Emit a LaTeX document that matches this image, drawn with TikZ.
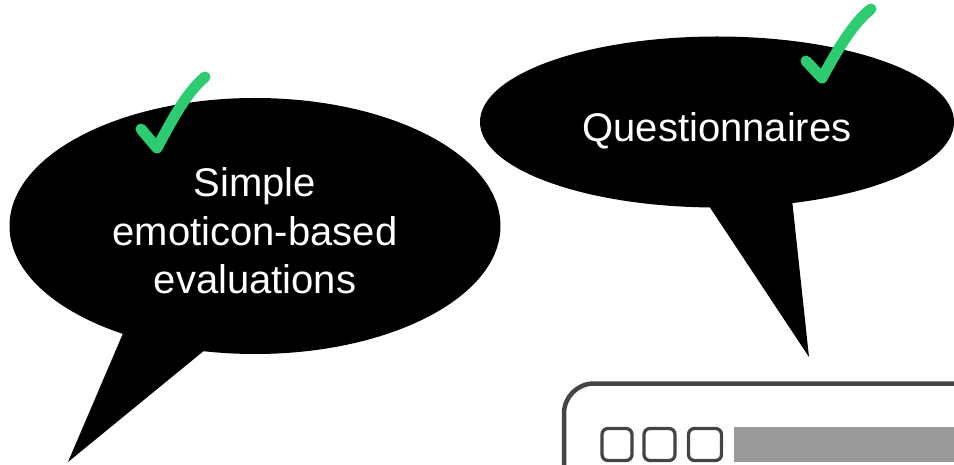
\documentclass[tikz,border=0pt]{standalone}
\usepackage{fontspec}
\setmainfont{Liberation Sans}
\usetikzlibrary{shapes.geometric,calc}
\definecolor{checkgreen}{RGB}{46,204,113}
\definecolor{framegray}{RGB}{68,68,68}
\definecolor{bargray}{RGB}{153,153,153}
\newcommand{\bubbletext}[1]{\raisebox{-16pt}[0pt][0pt]{\begin{tabular}{@{}c@{}}#1\end{tabular}}}
\begin{document}
\begin{tikzpicture}[x=1pt,y=-1pt,
  bubble/.style={ellipse,fill=black,inner sep=0pt,text=white,
    font=\fontsize{40}{48.5}\selectfont},
  checkmark/.style={draw=checkgreen,line width=11,line cap=round,line join=round},
  framebox/.style={draw=framegray,line width=4.5,rounded corners=30},
  btn/.style={draw=framegray,line width=3.3,rounded corners=6}]
\useasboundingbox (0,0) rectangle (954,465);
% left bubble
\node[bubble,minimum width=491,minimum height=256] (b1) at (255,226)
  {\bubbletext{Simple\\emoticon-based\\evaluations}};
\coordinate (t1a) at (130,317);
\coordinate (t1tip) at (68,462);
\coordinate (t1b) at (222,336);
\fill (t1a) -- (t1tip) -- (t1b) -- cycle;
% right bubble
\node[bubble,minimum width=474,minimum height=171] (b2) at (717,122)
  {\bubbletext{Questionnaires}};
\coordinate (t2a) at (703,197);
\coordinate (t2tip) at (809,357);
\coordinate (t2b) at (791,190);
\fill (t2a) -- (t2tip) -- (t2b) -- cycle;
% checkmarks
\coordinate (c1) at (157,148);
\draw[checkmark] ($(c1)+(-16,-19)$) -- (c1) .. controls ($(c1)+(16,-30)$) and ($(c1)+(30,-56)$) .. ($(c1)+(48,-71)$);
\coordinate (c2) at (822,78);
\draw[checkmark] ($(c2)+(-16,-17)$) -- (c2) .. controls ($(c2)+(16,-29)$) and ($(c2)+(31,-55)$) .. ($(c2)+(49,-69)$);
% browser window
\coordinate (w0) at (564,480);
\coordinate (w1) at (564,383.5);
\coordinate (w2) at (970,383.5);
\draw[framebox] (w0) -- (w1) -- (w2);
\node[btn,minimum width=30,minimum height=32,inner sep=0pt] (k1) at (617,444.5) {};
\node[btn,minimum width=31,minimum height=32,inner sep=0pt] (k2) at (659.5,444.5) {};
\node[btn,minimum width=33,minimum height=32,inner sep=0pt] (k3) at (705,444.5) {};
\fill[bargray] (734,427) rectangle (960,462);
\end{tikzpicture}
\end{document}
